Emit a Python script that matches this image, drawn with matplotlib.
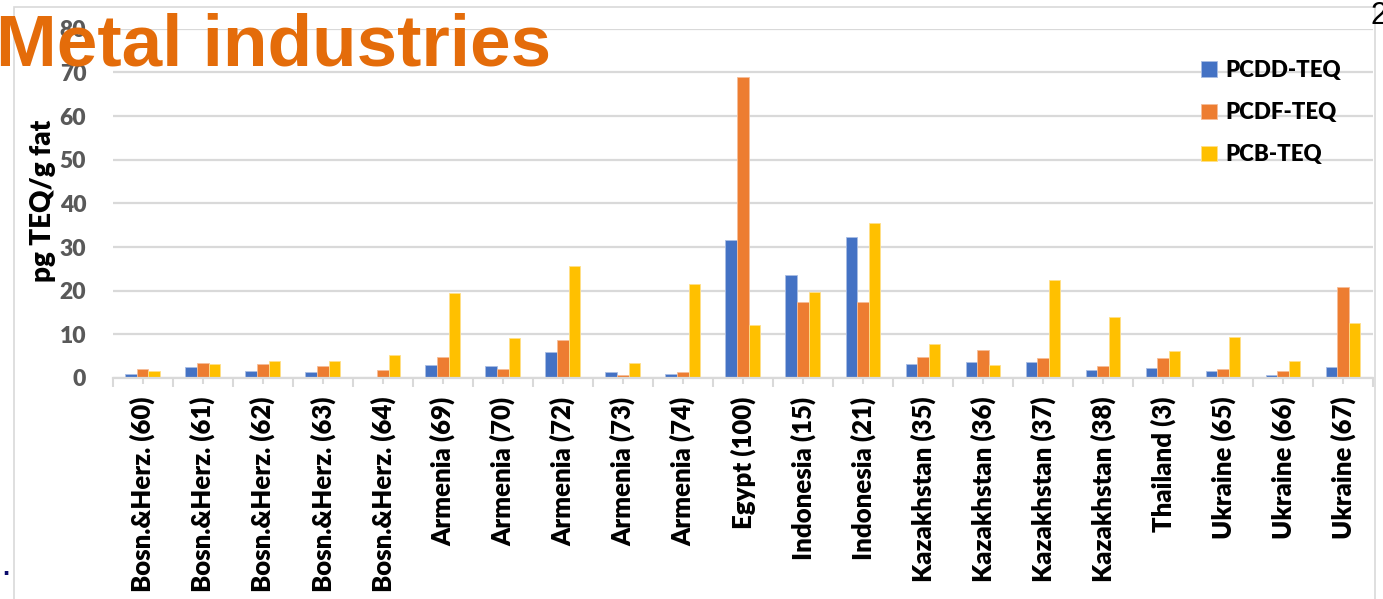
import matplotlib
matplotlib.use("Agg")
import matplotlib.pyplot as plt
from matplotlib.patches import Rectangle
from matplotlib.ticker import FixedLocator, MultipleLocator
import numpy as np

# Sample names (country and sample number)
categories = [
    "Bosn.&Herz. (60)", "Bosn.&Herz. (61)", "Bosn.&Herz. (62)", "Bosn.&Herz. (63)",
    "Bosn.&Herz. (64)", "Armenia (69)", "Armenia (70)", "Armenia (72)", "Armenia (73)",
    "Armenia (74)", "Egypt (100)", "Indonesia (15)", "Indonesia (21)", "Kazakhstan (35)",
    "Kazakhstan (36)", "Kazakhstan (37)", "Kazakhstan (38)", "Thailand (3)",
    "Ukraine (65)", "Ukraine (66)", "Ukraine (67)",
]

# pg TEQ/g fat per congener group
pcdd_teq = [1.0, 2.6, 1.7, 1.35, 0.1, 3.0, 2.65, 6.0, 1.3, 1.0, 31.7,
            23.6, 32.2, 3.3, 3.7, 3.6, 1.8, 2.3, 1.6, 0.8, 2.6]
pcdf_teq = [2.0, 3.4, 3.3, 2.7, 1.8, 4.8, 2.0, 8.8, 0.8, 1.3, 69.0,
            17.5, 17.3, 4.8, 6.4, 4.5, 2.65, 4.5, 2.1, 1.5, 20.9]
pcb_teq = [1.7, 3.3, 3.8, 4.0, 5.2, 19.4, 9.1, 25.6, 3.5, 21.6, 12.1,
           19.7, 35.4, 7.8, 3.0, 22.5, 13.9, 6.1, 9.3, 4.0, 12.5]

series_names = ["PCDD-TEQ", "PCDF-TEQ", "PCB-TEQ"]
series_colors = ["#4472C4", "#ED7D31", "#FFC000"]
edge_colors = ["#A9BDE4", "#F6BE9A", "#FFE08A"]
y_ticks = [0, 10, 20, 30, 40, 50, 60, 70, 80]

FONT = "Lato"
WEIGHT = "heavy"

W, H = 1383, 599
fig = plt.figure(figsize=(W / 100, H / 100), dpi=100)
fig.patch.set_facecolor("white")

# chart-area border
fig.add_artist(Rectangle((14 / W, -0.01), (1375 - 14) / W, (H - 7) / H + 0.01,
                         transform=fig.transFigure, fill=False,
                         edgecolor="#D9D9D9", lw=1.2))

left, right = 112.7, 1373
top, bottom = 28.7, 378
ax = fig.add_axes([left / W, (H - bottom) / H, (right - left) / W, (bottom - top) / H])

x = np.arange(len(categories)) + 0.5
bw = 0.193
for i, (vals, name) in enumerate(zip([pcdd_teq, pcdf_teq, pcb_teq], series_names)):
    ax.bar(x + (i - 1) * bw, vals, width=bw, color=series_colors[i],
           edgecolor=edge_colors[i], linewidth=0.6, label=name, zorder=3)

ax.set_xlim(0, len(categories))
ax.set_ylim(0, 80)
ax.yaxis.set_major_locator(FixedLocator(y_ticks))
ax.grid(axis="y", color="#D9D9D9", lw=1.6, zorder=0)
ax.set_axisbelow(True)

for s in ["top", "right", "left"]:
    ax.spines[s].set_visible(False)
ax.spines["bottom"].set_color("#D9D9D9")
ax.spines["bottom"].set_linewidth(1.6)
ax.spines["bottom"].set_zorder(4)

ax.set_xticks(x)
ax.set_xticklabels(categories, rotation=90, fontfamily=FONT, fontweight=WEIGHT,
                   fontsize=18.5, color="black")
ax.xaxis.set_minor_locator(MultipleLocator(1))
ax.tick_params(axis="x", which="major", length=4.5, width=1.5, color="#D9D9D9", pad=9)
ax.tick_params(axis="x", which="minor", length=6.5, width=1.5, color="#D9D9D9")
ax.tick_params(axis="y", length=0, pad=19)
for lbl in ax.get_yticklabels():
    lbl.set_fontfamily(FONT)
    lbl.set_fontweight(WEIGHT)
    lbl.set_fontsize(16.5)
    lbl.set_color("#595959")

fig.text(43 / W, 1 - 201 / H, "pg TEQ/g fat", rotation=90, ha="center", va="center",
         fontfamily=FONT, fontweight=WEIGHT, fontsize=20, color="black")

leg = fig.legend(loc="upper left", bbox_to_anchor=(1181 / W, 1 - 40 / H),
                 frameon=False, prop={"family": FONT, "weight": WEIGHT, "size": 16},
                 handlelength=0.7, handleheight=0.7, handletextpad=0.4,
                 labelspacing=0.95)

fig.text(-4 / W, 1 - 66 / H, "Metal industries", ha="left", va="baseline",
         fontfamily="Liberation Sans", fontweight="bold", fontsize=52.5, color="#E46C0A")

fig.text(1371 / W, 1 - 24 / H, "2", ha="left", va="baseline",
         fontfamily="Liberation Sans", fontsize=22, color="black")
fig.text(2 / W, 1 - 575 / H, ".", ha="left", va="baseline",
         fontfamily="Liberation Sans", fontweight="bold", fontsize=18, color="#0B0B6B")

fig.savefig("out.png", dpi=100, facecolor="white")
